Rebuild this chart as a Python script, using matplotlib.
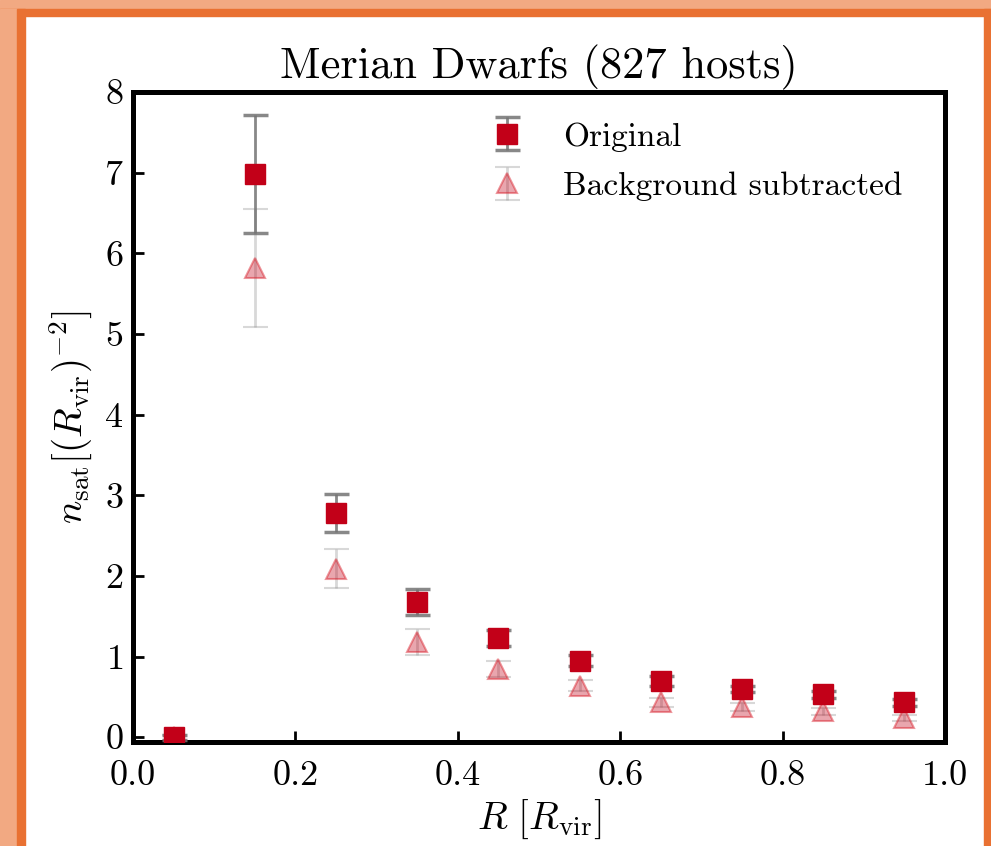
import numpy as np
import matplotlib
matplotlib.use("Agg")
import matplotlib.pyplot as plt
from matplotlib.patches import Rectangle

plt.rcParams['font.family'] = 'serif'
plt.rcParams['font.serif'] = ['cmr10', 'DejaVu Serif']
plt.rcParams['mathtext.fontset'] = 'cm'
plt.rcParams['axes.formatter.use_mathtext'] = True

# radial bins [R_vir]
r_bins = [0.05, 0.15, 0.25, 0.35, 0.45, 0.55, 0.65, 0.75, 0.85, 0.95]
# original profile
n_orig = [0.0, 6.98, 2.78, 1.68, 1.23, 0.95, 0.70, 0.60, 0.53, 0.43]
err_orig = [0.03, 0.73, 0.24, 0.16, 0.10, 0.07, 0.06, 0.04, 0.04, 0.04]
# background subtracted profile
n_bgsub = [0.0, 5.82, 2.09, 1.18, 0.85, 0.64, 0.43, 0.37, 0.32, 0.24]
err_bgsub = [0.03, 0.73, 0.24, 0.16, 0.10, 0.07, 0.06, 0.05, 0.04, 0.04]

red = '#C20018'

fig = plt.figure(figsize=(9.91, 8.46), dpi=100)
fig.patch.set_facecolor('white')

# slide frame around the figure
salmon = '#F2A982'
orange = '#E97132'
fig.patches.append(Rectangle((0, 1 - 9 / 846), 1, 9 / 846, transform=fig.transFigure,
                             color=salmon, zorder=0))
fig.patches.append(Rectangle((0, 1 - 16 / 846), 1, 7 / 846, transform=fig.transFigure,
                             color=orange, zorder=0))
fig.patches.append(Rectangle((0, 0), 17 / 991, 1 - 9 / 846, transform=fig.transFigure,
                             color=salmon, zorder=0))
fig.patches.append(Rectangle((17 / 991, 0), 8 / 991, 1 - 9 / 846, transform=fig.transFigure,
                             color=orange, zorder=0))
fig.patches.append(Rectangle((984 / 991, 0), 7 / 991, 1 - 9 / 846, transform=fig.transFigure,
                             color=orange, zorder=0))

ax = fig.add_axes([133 / 991, 1 - 742 / 846, (945 - 133) / 991, (742 - 92) / 846])

ax.errorbar(r_bins, n_orig, yerr=err_orig, fmt='s', ms=15, mfc=red, mec=red,
            ecolor=(0.45, 0.45, 0.45, 0.85), elinewidth=2, capsize=9, capthick=2.5,
            label='Original', zorder=3)
ax.errorbar(r_bins, n_bgsub, yerr=err_bgsub, fmt='^', ms=15,
            mfc=(0.76, 0.0, 0.09, 0.35), mec=(0.85, 0.1, 0.15, 0.45), mew=1.5,
            ecolor=(0.5, 0.5, 0.5, 0.3), elinewidth=2, capsize=9, capthick=2.5,
            label='Background subtracted', zorder=2)

ax.set_xlim(0, 1)
ax.set_ylim(-0.06, 8)
ax.set_xticks([0.0, 0.2, 0.4, 0.6, 0.8, 1.0])
ax.set_xticklabels(['0.0', '0.2', '0.4', '0.6', '0.8', '1.0'])
ax.set_yticks(range(0, 9))
ax.tick_params(direction='in', length=8, width=2, labelsize=26)
ax.tick_params(axis='x', pad=13)
ax.tick_params(axis='y', pad=7)
for s in ax.spines.values():
    s.set_linewidth(3.6)

ax.set_xlabel(r'$R\ [R_{\rm vir}]$', fontsize=28, labelpad=4)
ax.set_ylabel(r'$n_{\rm sat}[(R_{\rm vir})^{-2}]$', fontsize=28, labelpad=6)
ax.set_title('Merian Dwarfs (827 hosts)', fontsize=32, pad=10)

ax.legend(loc='upper right', frameon=False, fontsize=24, bbox_to_anchor=(0.985, 1.0),
          handletextpad=0.7, labelspacing=0.6)

plt.savefig('out.png', dpi=100)
